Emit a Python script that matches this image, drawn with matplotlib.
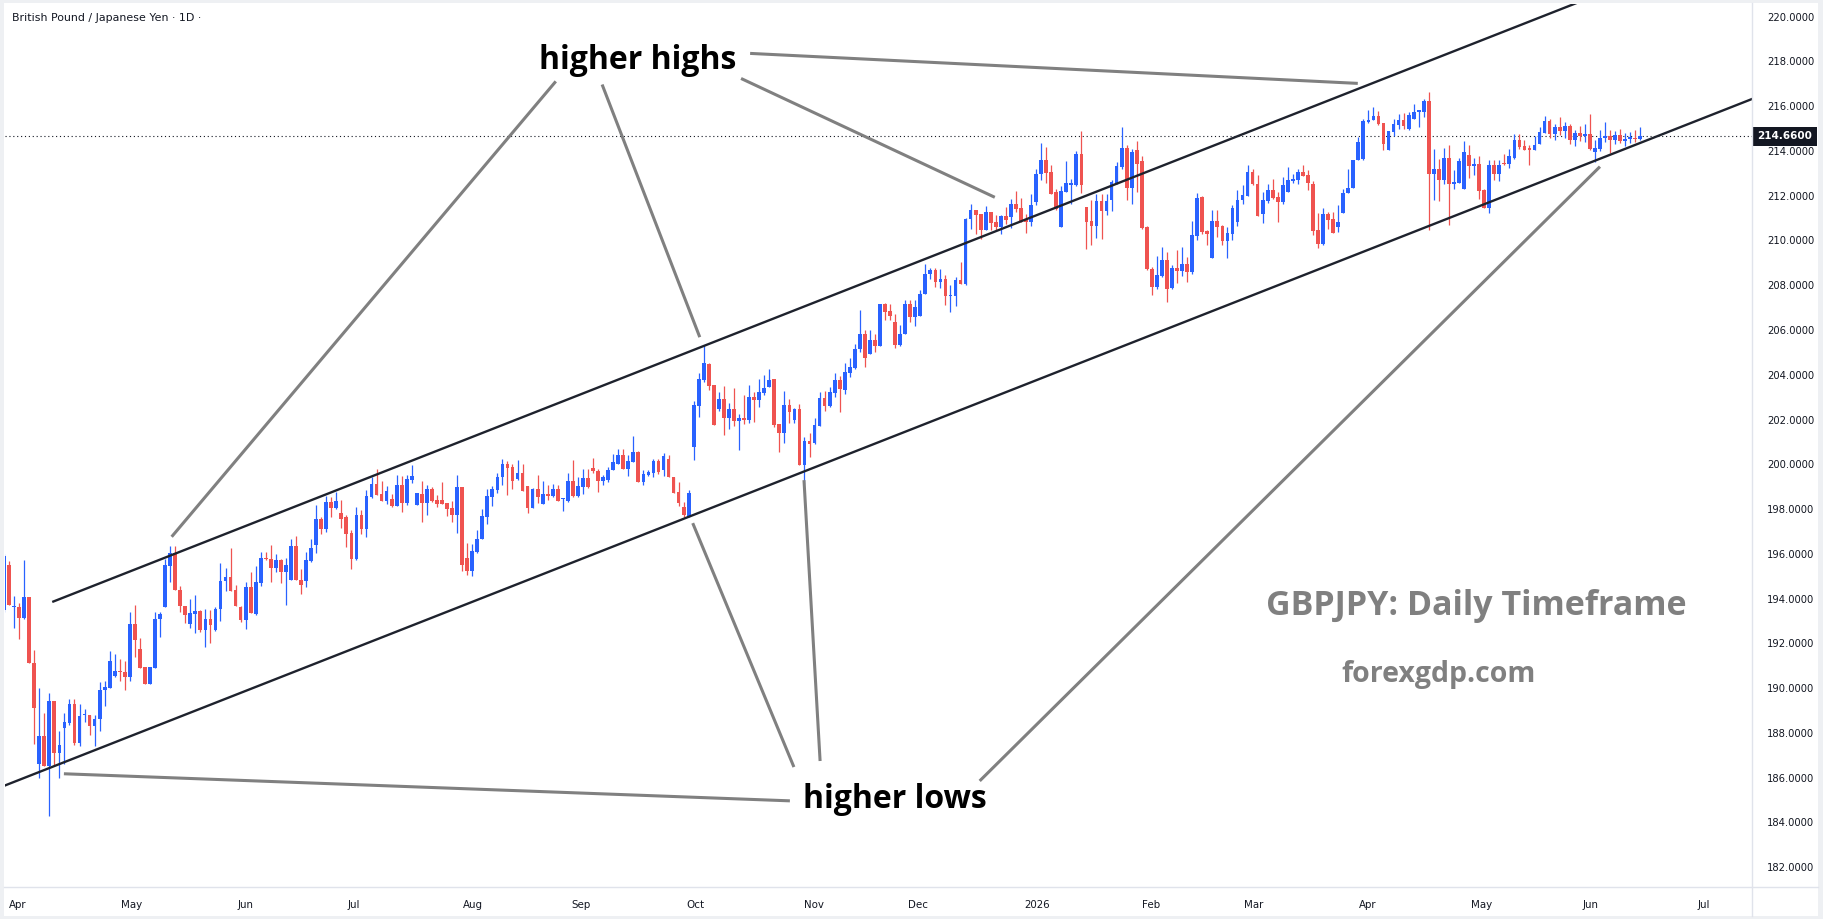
import numpy as np
import pandas as pd
import matplotlib
matplotlib.use("Agg")
import matplotlib.pyplot as plt
from matplotlib import transforms
from matplotlib.patches import Rectangle
from matplotlib.lines import Line2D

# GBPJPY daily candles (first bar = 2025-03-27)
opens = [193.5, 195.5, 193.6, 193.6, 193.15, 194.05, 191.1, 186.6, 187.85, 186.5,
         189.4, 187.1, 188.2, 188.45, 189.3, 187.55, 188.78, 188.8, 188.3, 188.6,
         189.9, 190.0, 190.55, 190.75, 190.7, 190.5, 192.85, 191.75, 190.95, 190.2,
         190.9, 193.1, 193.6, 195.45, 196.05, 194.4, 193.65, 192.85, 193.3, 193.45,
         192.6, 193.1, 192.6, 193.55, 194.8, 194.95, 194.4, 193.6, 193.05, 194.5,
         193.3, 194.7, 195.8, 195.75, 195.35, 195.7, 195.2, 194.85, 196.35, 194.85,
         194.8, 195.67, 196.38, 197.55, 197.1, 198.3, 198.05, 197.84, 197.65, 196.95,
         195.76, 197.72, 197.1, 198.54, 199.11, 198.66, 198.36, 198.47, 198.13, 199.06,
         198.27, 199.29, 198.17, 198.69, 198.27, 198.89, 198.39, 198.39, 198.27, 198.05,
         197.75, 198.99, 195.79, 195.22, 196.07, 196.65, 197.65, 198.54, 198.87, 199.41,
         200.0, 199.88, 199.33, 199.61, 199.02, 198.05, 198.89, 198.24, 198.66, 198.57,
         198.89, 198.45, 198.36, 199.24, 198.57, 199.0, 199.39, 199.85, 199.7, 199.24,
         199.31, 199.73, 200.03, 200.4, 199.79, 200.11, 200.55, 199.21, 199.51, 199.61,
         200.15, 199.74, 200.22, 199.44, 198.77, 198.07, 197.66, 200.78, 202.6, 203.76,
         204.5, 203.54, 202.49, 202.91, 202.05, 202.45, 201.95, 202.09, 201.97, 202.99,
         202.87, 203.2, 203.46, 203.79, 201.79, 201.38, 202.64, 202.0, 202.49, 199.96,
         201.05, 200.93, 201.71, 202.94, 202.6, 203.2, 203.76, 203.34, 204.09, 204.28,
         205.13, 205.81, 204.92, 205.55, 205.27, 207.15, 206.84, 206.36, 205.32, 205.84,
         207.18, 206.58, 206.63, 207.62, 208.49, 208.7, 208.15, 208.27, 207.5, 207.52,
         208.22, 208.04, 210.94, 211.35, 211.17, 210.45, 211.27, 210.83, 210.6, 211.08,
         211.05, 211.65, 211.47, 210.94, 210.82, 211.72, 212.95, 213.58, 213.06, 212.17,
         210.6, 212.17, 212.5, 212.5, 213.85, 211.5, 210.87, 210.65, 211.76, 211.32,
         211.8, 212.57, 213.28, 214.13, 212.35, 214.06, 213.54, 210.6, 208.74, 207.92,
         208.4, 209.14, 207.87, 208.79, 208.64, 208.94, 208.59, 210.19, 211.94, 210.42,
         209.23, 210.87, 210.63, 209.98, 210.3, 210.83, 211.8, 211.97, 213.06, 212.54,
         211.17, 211.76, 212.24, 211.94, 211.72, 212.17, 212.66, 212.69, 213.06, 212.91,
         212.54, 210.45, 209.86, 211.2, 210.98, 210.6, 211.23, 212.12, 212.36, 213.58,
         213.65, 215.29, 215.37, 215.55, 215.25, 214.03, 214.85, 215.14, 215.37, 215.0,
         215.44, 215.75, 215.74, 216.23, 212.95, 213.18, 212.69, 213.7, 212.51, 212.57,
         212.28, 213.8, 213.33, 213.4, 212.27, 211.47, 213.36, 212.96, 213.46, 213.4,
         213.7, 214.5, 214.2, 214.13, 214.03, 214.3, 214.8, 215.34, 214.75, 215.05,
         214.9, 215.1, 214.5, 214.8, 214.65, 214.77, 213.95, 214.1, 214.6, 214.67,
         214.5, 214.7, 214.45, 214.55, 214.6, 214.52]
highs = [196.0, 195.68, 194.1, 193.8, 195.7, 194.05, 191.7, 189.99, 188.9, 189.8,
         189.4, 188.1, 188.9, 189.5, 189.5, 189.3, 189.05, 188.8, 188.8, 190.25,
         190.3, 191.65, 191.5, 191.3, 191.2, 193.4, 193.7, 192.25, 190.95, 190.95,
         193.4, 193.4, 195.75, 196.35, 196.35, 194.55, 193.65, 194.0, 194.15, 193.5,
         193.55, 193.5, 193.6, 195.6, 195.35, 196.25, 194.6, 193.65, 194.75, 195.2,
         195.45, 196.1, 196.1, 196.4, 196.0, 195.75, 195.8, 196.65, 196.8, 195.3,
         196.1, 196.64, 198.17, 197.65, 198.57, 198.54, 198.77, 198.39, 197.75, 197.08,
         198.1, 197.95, 198.84, 199.41, 199.81, 199.24, 199.02, 198.69, 199.51, 199.47,
         199.54, 199.96, 198.72, 199.24, 199.06, 198.99, 198.62, 199.21, 198.27, 198.36,
         199.51, 198.99, 196.46, 196.43, 197.05, 197.99, 198.89, 199.03, 199.59, 200.25,
         200.13, 199.99, 200.21, 200.0, 199.02, 198.92, 199.51, 199.26, 199.06, 199.11,
         199.06, 198.5, 199.61, 200.21, 199.44, 199.81, 199.81, 200.3, 199.81, 199.51,
         199.88, 200.48, 200.7, 200.7, 200.4, 201.25, 200.6, 199.76, 199.76, 200.25,
         200.25, 200.51, 200.41, 199.44, 199.19, 198.32, 198.85, 202.84, 204.09, 205.32,
         204.53, 203.54, 203.24, 203.49, 202.75, 203.43, 202.24, 203.09, 203.54, 203.24,
         203.79, 203.98, 204.24, 203.83, 201.79, 203.28, 202.9, 202.53, 202.69, 201.23,
         201.38, 202.09, 203.24, 203.28, 203.46, 204.09, 203.94, 204.53, 204.73, 205.37,
         206.88, 205.99, 205.99, 205.84, 207.18, 207.21, 207.18, 206.73, 206.24, 207.36,
         207.36, 207.36, 207.8, 208.93, 208.79, 208.79, 208.74, 208.44, 208.0, 208.37,
         209.04, 211.02, 211.61, 211.38, 211.2, 211.53, 211.27, 211.12, 211.12, 211.5,
         211.87, 212.21, 211.91, 211.17, 212.09, 213.21, 214.35, 214.17, 213.36, 212.31,
         212.42, 213.54, 212.76, 213.98, 214.89, 211.5, 211.79, 212.09, 212.06, 212.09,
         212.72, 213.51, 215.07, 214.25, 214.1, 214.43, 213.76, 210.63, 208.82, 209.29,
         209.71, 209.49, 208.89, 209.56, 209.71, 209.26, 210.87, 212.12, 211.97, 210.45,
         211.38, 211.38, 210.68, 210.6, 211.57, 212.24, 212.47, 213.36, 213.21, 212.91,
         212.17, 212.54, 212.76, 212.17, 212.84, 213.28, 212.99, 213.21, 213.36, 213.13,
         212.64, 211.23, 211.47, 211.27, 211.27, 211.57, 212.31, 213.21, 213.61, 214.62,
         215.44, 215.84, 215.96, 215.78, 215.25, 214.88, 215.44, 215.66, 215.7, 215.74,
         216.08, 215.84, 216.33, 216.63, 214.1, 213.66, 214.15, 214.25, 213.13, 213.7,
         214.44, 214.25, 213.7, 213.76, 212.31, 213.58, 213.58, 213.61, 213.85, 214.1,
         214.74, 214.74, 214.5, 214.25, 214.65, 215.07, 215.55, 215.45, 215.2, 215.5,
         215.3, 215.2, 214.95, 215.1, 215.19, 215.66, 214.5, 214.95, 215.29, 214.95,
         214.9, 215.0, 214.8, 214.85, 214.95, 215.07]
lows = [193.4, 193.7, 192.7, 192.2, 193.1, 191.1, 187.5, 185.97, 186.5, 184.3,
        186.5, 186.0, 186.6, 188.35, 187.45, 187.4, 188.5, 187.9, 187.4, 188.1,
        189.2, 190.0, 190.5, 190.3, 189.9, 190.3, 191.4, 190.9, 190.2, 190.2,
        190.9, 192.3, 193.6, 194.75, 194.4, 193.4, 192.9, 192.7, 192.45, 192.5,
        191.85, 192.0, 192.55, 193.0, 194.35, 194.35, 193.65, 192.95, 192.65, 193.35,
        193.25, 194.55, 195.7, 194.75, 195.2, 194.7, 193.7, 194.85, 194.85, 194.2,
        194.5, 195.64, 196.04, 196.9, 196.98, 197.65, 197.99, 197.16, 196.31, 195.31,
        195.71, 196.88, 196.76, 198.51, 198.62, 198.36, 198.21, 198.1, 198.13, 197.87,
        198.17, 199.17, 198.17, 197.43, 197.72, 198.32, 198.1, 198.21, 197.69, 197.43,
        196.91, 195.24, 195.04, 195.01, 196.04, 196.65, 197.32, 198.13, 198.72, 199.06,
        198.62, 198.89, 199.29, 198.81, 197.83, 198.05, 198.27, 198.24, 198.42, 198.54,
        198.36, 197.92, 198.32, 198.54, 198.54, 198.66, 198.96, 199.63, 198.77, 199.06,
        199.21, 199.73, 199.99, 199.79, 199.47, 200.11, 199.21, 199.09, 199.47, 199.44,
        199.58, 199.47, 199.44, 198.7, 198.13, 197.66, 197.66, 200.19, 202.12, 203.69,
        203.31, 201.75, 202.39, 201.3, 201.57, 201.71, 200.63, 201.79, 201.83, 201.9,
        202.54, 203.09, 203.46, 201.68, 200.56, 200.96, 201.85, 201.85, 199.96, 199.14,
        200.31, 200.9, 201.71, 202.39, 202.57, 202.99, 202.35, 203.13, 203.91, 204.24,
        205.03, 204.36, 204.92, 205.03, 205.27, 206.46, 206.43, 205.21, 205.29, 205.81,
        206.36, 206.18, 206.63, 207.6, 208.27, 207.92, 207.89, 207.1, 206.81, 207.07,
        208.04, 208.0, 210.53, 210.28, 210.05, 210.45, 210.45, 210.45, 210.28, 210.75,
        210.57, 211.27, 210.82, 210.33, 210.63, 211.57, 212.72, 212.57, 212.06, 211.38,
        210.6, 212.17, 211.65, 212.42, 212.12, 209.61, 209.78, 210.11, 210.08, 211.12,
        211.32, 212.54, 213.21, 211.79, 211.61, 212.17, 210.53, 208.69, 207.55, 207.85,
        208.37, 207.25, 207.85, 208.1, 208.4, 208.15, 208.52, 210.01, 210.3, 209.78,
        209.23, 210.15, 209.78, 209.23, 210.04, 210.63, 211.64, 211.97, 212.46, 211.08,
        210.78, 211.67, 211.87, 210.83, 211.64, 212.17, 212.57, 212.54, 212.87, 212.24,
        210.23, 209.68, 209.78, 210.53, 210.34, 210.38, 211.23, 212.12, 212.36, 213.58,
        213.61, 215.25, 215.37, 215.14, 214.03, 214.03, 214.65, 214.99, 214.99, 214.95,
        215.44, 215.07, 215.52, 210.45, 211.79, 211.76, 212.54, 210.68, 212.31, 212.57,
        212.28, 212.81, 212.91, 211.87, 211.47, 211.23, 212.69, 212.66, 213.36, 213.25,
        213.66, 214.1, 214.03, 213.36, 214.03, 214.3, 214.8, 214.6, 214.5, 214.7,
        214.6, 214.3, 214.2, 214.45, 214.4, 214.05, 213.5, 214.0, 214.4, 213.91,
        214.3, 214.35, 214.2, 214.35, 214.4, 214.47]
closes = [195.9, 193.7, 193.65, 193.15, 194.05, 191.1, 189.1, 187.85, 186.5, 189.4,
          187.1, 187.45, 188.5, 189.3, 187.55, 188.75, 188.8, 188.3, 188.6, 189.9,
          190.05, 191.2, 190.75, 190.7, 190.5, 192.85, 192.15, 190.9, 190.2, 190.95,
          193.1, 193.3, 195.5, 196.05, 194.4, 193.65, 193.25, 193.35, 193.45, 192.6,
          193.1, 192.8, 193.55, 194.8, 194.95, 194.35, 193.65, 193.05, 194.5, 193.35,
          194.75, 195.8, 195.75, 195.35, 195.7, 195.2, 195.5, 196.35, 194.85, 194.6,
          195.7, 196.28, 197.55, 197.1, 198.3, 198.05, 198.35, 197.54, 196.9, 195.76,
          197.72, 197.1, 198.57, 199.11, 198.62, 198.36, 198.8, 198.13, 199.06, 198.27,
          199.33, 199.47, 198.72, 198.27, 198.89, 198.36, 198.21, 198.21, 197.99, 197.75,
          198.99, 195.49, 195.22, 196.12, 196.68, 197.69, 198.57, 198.89, 199.41, 200.0,
          199.85, 199.24, 199.61, 198.81, 198.05, 198.89, 198.54, 198.66, 198.57, 198.89,
          198.36, 198.48, 199.24, 198.57, 199.02, 199.39, 198.99, 199.7, 199.24, 199.44,
          199.76, 200.11, 200.4, 199.79, 200.15, 200.55, 199.21, 199.56, 199.64, 200.15,
          199.66, 200.37, 199.44, 198.73, 198.28, 197.73, 198.73, 202.64, 203.79, 204.53,
          203.51, 201.75, 202.91, 202.05, 202.45, 201.95, 202.09, 201.97, 202.99, 202.87,
          203.24, 203.42, 203.76, 201.75, 201.38, 202.64, 202.35, 202.49, 199.96, 201.05,
          200.9, 201.75, 202.94, 202.6, 203.24, 203.76, 203.36, 204.13, 204.33, 205.17,
          205.81, 204.77, 205.55, 205.28, 207.15, 206.81, 206.63, 205.32, 205.84, 207.18,
          206.58, 207.03, 207.62, 208.52, 208.7, 208.15, 208.27, 207.52, 207.55, 208.22,
          208.04, 210.97, 211.35, 211.12, 210.45, 211.27, 210.78, 210.6, 211.08, 210.93,
          211.65, 211.42, 210.87, 210.82, 211.57, 212.95, 213.58, 213.01, 212.09, 211.42,
          212.21, 212.57, 212.57, 213.85, 212.46, 210.83, 210.65, 211.76, 211.32, 211.76,
          212.61, 213.31, 214.13, 212.35, 213.95, 213.43, 210.56, 208.71, 207.92, 208.44,
          209.14, 207.85, 208.79, 208.62, 208.94, 208.59, 210.23, 211.91, 210.38, 210.3,
          210.87, 210.6, 209.98, 210.35, 211.47, 211.83, 212.02, 213.06, 212.51, 211.08,
          211.79, 212.24, 211.9, 211.72, 212.46, 212.69, 212.76, 213.06, 212.87, 212.57,
          210.41, 209.86, 211.2, 210.93, 210.34, 210.83, 212.14, 212.36, 213.58, 214.4,
          215.32, 215.4, 215.55, 215.19, 214.3, 214.88, 215.19, 215.37, 215.1, 215.59,
          215.74, 215.78, 216.23, 212.95, 213.18, 212.69, 213.7, 212.51, 212.61, 213.55,
          213.95, 213.31, 213.42, 212.21, 211.47, 213.39, 212.99, 213.36, 213.4, 213.76,
          214.5, 214.18, 214.06, 214.03, 214.25, 214.85, 215.34, 214.75, 215.05, 214.9,
          215.1, 214.5, 214.8, 214.65, 214.77, 214.1, 214.15, 214.6, 214.67, 214.5,
          214.7, 214.45, 214.55, 214.6, 214.52, 214.66]

first_day = "2025-03-27"
last_price = 214.66
price_ticks = list(range(182, 221, 2))

# channel lines: price = start + slope * bar
upper_start, lower_start, channel_slope = 193.0, 185.63, 0.0884
upper_from_bar = 9.8

# gray pointer lines (bar, price) -> (bar, price)
highs_pointers = [((109.6, 217.11), (33.3, 196.76)),
                  ((118.8, 216.97), (138.2, 205.68)),
                  ((146.4, 217.24), (196.8, 211.93)),
                  ((148.2, 218.36), (268.9, 217.02))]
lows_pointers = [((11.9, 186.17), (156.1, 184.96)),
                 ((136.8, 197.37), (156.9, 186.47)),
                 ((158.9, 199.29), (162.1, 186.74)),
                 ((193.8, 185.85), (317.0, 213.3))]

# time axis: month labels sit on a weekday calendar, slightly wider than a bar
time_origin, time_scale = -0.41, 1.0277

BLUE = "#2962ff"
RED = "#ef5350"
GRID = "#e0e3eb"
FRAME = "#eef0f3"
INK = "#131722"

W, H = 1823, 919
fig = plt.figure(figsize=(W / 100, H / 100), dpi=100, facecolor=FRAME)
fig.patches.append(Rectangle((4 / W, 3 / H), 1814 / W, 913 / H,
                             transform=fig.transFigure, facecolor="white",
                             edgecolor="none", zorder=-5))
fig.lines.append(Line2D([1752 / W, 1752 / W], [3 / H, 916 / H],
                        transform=fig.transFigure, color=GRID, lw=1))
fig.lines.append(Line2D([4 / W, 1818 / W], [32 / H, 32 / H],
                        transform=fig.transFigure, color=GRID, lw=1))

ax = fig.add_axes([4.6 / W, 32 / H, (1752 - 4.6) / W, (887 - 3.5) / H])
ax.patch.set_alpha(0)
for s in ax.spines.values():
    s.set_visible(False)

o = np.array(opens)
h = np.array(highs)
l = np.array(lows)
c = np.array(closes)
bars = np.arange(len(o))
col = np.where(c >= o, BLUE, RED)

ax.vlines(bars, l, h, colors=col, linewidth=0.9, zorder=2)
ax.bar(bars, np.maximum(np.abs(c - o), 0.06), bottom=np.minimum(o, c),
       width=0.74, color=col, linewidth=0, zorder=3)

# trend channel
xs = np.array([-5, 360])
ax.plot(xs, lower_start + channel_slope * xs, color="#1e222d", lw=1.7, zorder=4)
xu = np.array([upper_from_bar, 360])
ax.plot(xu, upper_start + channel_slope * xu, color="#1e222d", lw=1.7, zorder=4)

for (x0, y0), (x1, y1) in highs_pointers + lows_pointers:
    ax.plot([x0, x1], [y0, y1], color="#808080", lw=2.2, zorder=5,
            solid_capstyle="butt")

ax.axhline(last_price, color=INK, lw=0.8, ls=(0, (1, 2.5)), zorder=1)

ax.text(125.9, 218.05, "higher highs", family="Open Sans", weight="bold",
        fontsize=23, ha="center", va="center", color="black", zorder=6)
ax.text(177.0, 185.0, "higher lows", family="Open Sans", weight="bold",
        fontsize=23, ha="center", va="center", color="black", zorder=6)
ax.text(292.4, 193.66, "GBPJPY: Daily Timeframe", family="Open Sans",
        weight="bold", fontsize=24.5, ha="center", va="center", color="#808080")
ax.text(285.0, 190.62, "forexgdp.com", family="Open Sans", weight="bold",
        fontsize=20.5, ha="center", va="center", color="#808080")

ax.set_xlim(0.12, 347.2)
ax.set_ylim(181.11, 220.59)

# month ticks at the first weekday of each month
dates = pd.bdate_range(first_day, periods=400)
starts = [i for i in range(1, len(dates)) if dates[i].month != dates[i - 1].month]
pos = [time_origin + time_scale * i for i in starts]
keep = [k for k, p in enumerate(pos) if p < 347]
names = [str(dates[starts[k]].year) if dates[starts[k]].month == 1
         else dates[starts[k]].strftime("%b") for k in keep]
ax.set_xticks([pos[k] for k in keep])
ax.set_xticklabels(names)
ax.tick_params(axis="x", length=0, pad=9, labelsize=7.4, labelcolor=INK)

ax.yaxis.tick_right()
ax.set_yticks(price_ticks)
ax.set_yticklabels([f"{p:.4f}" for p in price_ticks])
ax.tick_params(axis="y", length=0, pad=11, labelsize=7.2, labelcolor=INK)

# last price tag
tr = transforms.blended_transform_factory(fig.transFigure, ax.transData)
ax.text(1757 / W, last_price, f"{last_price:.4f}", transform=tr, ha="left",
        va="center", fontsize=7.5, color="white", weight="bold", zorder=10,
        bbox=dict(boxstyle="square,pad=0.45", fc=INK, ec="none"), clip_on=False)

fig.text(12 / W, 1 - 18 / H, "British Pound / Japanese Yen \u00b7 1D \u00b7",
         fontsize=7.9, color=INK, ha="left", va="center")

fig.savefig("out.png", dpi=100, facecolor=FRAME)
